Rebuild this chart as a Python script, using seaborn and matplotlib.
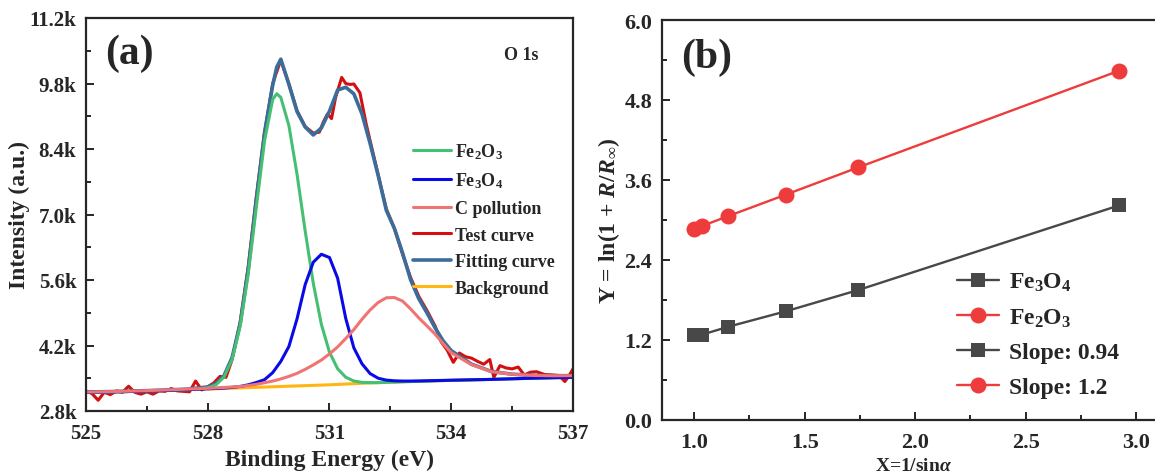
import matplotlib
matplotlib.use("Agg")
import matplotlib.pyplot as plt
import seaborn as sns
from matplotlib.ticker import MultipleLocator, FuncFormatter

# ---- (a) O 1s XPS spectrum -------------------------------------------------
energy = [525.0, 525.5, 526.0, 526.5, 527.0, 527.5, 528.0, 528.2, 528.4, 528.6,
          528.8, 529.0, 529.2, 529.4, 529.6, 529.7, 529.8, 530.0, 530.2, 530.4,
          530.6, 530.8, 531.0, 531.2, 531.4, 531.6, 531.8, 532.0, 532.2, 532.4,
          532.6, 532.8, 533.0, 533.2, 533.4, 533.6, 533.8, 534.0, 534.5, 535.0,
          535.5, 536.0, 536.5, 537.0]
background = [3200, 3207, 3215, 3227, 3240, 3255, 3270, 3276, 3282, 3288,
              3294, 3300, 3306, 3312, 3318, 3321, 3324, 3330, 3336, 3342,
              3348, 3354, 3360, 3368, 3376, 3384, 3392, 3400, 3406, 3412,
              3418, 3424, 3430, 3435, 3440, 3445, 3450, 3455, 3465, 3475,
              3488, 3500, 3510, 3520]
fe2o3_peak = [3200, 3207, 3215, 3227, 3240, 3255, 3294, 3359, 3525, 3900,
              4613, 5741, 7177, 8577, 9459, 9581, 9503, 8898, 7859, 6652,
              5531, 4651, 4055, 3703, 3522, 3441, 3412, 3406, 3406, 3412,
              3418, 3424, 3430, 3435, 3440, 3445, 3450, 3455, 3465, 3475,
              3488, 3500, 3510, 3520]
fe3o4_peak = [3200, 3207, 3215, 3227, 3240, 3257, 3275, 3281, 3290, 3305,
              3325, 3360, 3410, 3470, 3620, 3740, 3860, 4180, 4770, 5500,
              5980, 6150, 6080, 5640, 4780, 4150, 3810, 3600, 3500, 3460,
              3445, 3440, 3440, 3442, 3446, 3450, 3454, 3458, 3467, 3476,
              3489, 3501, 3511, 3520]
c_pollution = [3205, 3213, 3222, 3235, 3250, 3267, 3285, 3293, 3303, 3313,
               3325, 3345, 3370, 3405, 3440, 3462, 3485, 3540, 3605, 3690,
               3785, 3890, 4020, 4170, 4350, 4540, 4760, 4960, 5120, 5220,
               5225, 5150, 4980, 4790, 4620, 4445, 4240, 4045, 3790, 3640,
               3585, 3560, 3553, 3555]
fitting_curve = [3205, 3213, 3222, 3235, 3250, 3267, 3314, 3381, 3554, 3942,
                 4675, 5846, 7340, 8750, 9760, 10150, 10320, 9780, 9200, 8870,
                 8700, 8850, 9210, 9660, 9720, 9580, 9150, 8520, 7830, 7090,
                 6700, 6180, 5600, 5200, 4900, 4580, 4300, 4090, 3800, 3642,
                 3587, 3561, 3554, 3555]

test_energy = [525.0, 525.15, 525.3, 525.45, 525.6, 525.75, 525.9, 526.05, 526.2,
               526.35, 526.5, 526.65, 526.8, 526.95, 527.1, 527.25, 527.4, 527.55,
               527.7, 527.85, 528.0, 528.15, 528.3, 528.45, 528.6, 528.8, 529.0,
               529.2, 529.4, 529.6, 529.8, 530.0, 530.2, 530.4, 530.6, 530.75,
               530.85, 530.95, 531.05, 531.15, 531.3, 531.4, 531.5, 531.6, 531.75,
               531.9, 532.0, 532.2, 532.4, 532.6, 532.8, 533.0, 533.2, 533.4,
               533.6, 533.75, 533.9, 534.05, 534.2, 534.35, 534.5, 534.65, 534.8,
               534.95, 535.05, 535.2, 535.35, 535.5, 535.65, 535.8, 535.95, 536.1,
               536.3, 536.5, 536.65, 536.8, 536.9, 537.0]
test_curve = [3230, 3170, 3030, 3200, 3150, 3230, 3200, 3330, 3200,
              3160, 3210, 3160, 3230, 3220, 3280, 3230, 3220, 3210,
              3440, 3250, 3320, 3400, 3540, 3520, 3900, 4700, 5900,
              7400, 8750, 9800, 10300, 9790, 9220, 8880, 8740, 8760,
              8980, 9150, 9050, 9500, 9930, 9800, 9780, 9790, 9600,
              8950, 8580, 7850, 7120, 6700, 6150, 5650, 5250, 4950,
              4620, 4280, 4100, 3840, 4040, 3960, 3930, 3860, 3800,
              3900, 3520, 3770, 3720, 3700, 3740, 3570, 3630, 3640,
              3580, 3570, 3560, 3430, 3550, 3700]

# ---- (b) angle-resolved plot ----------------------------------------------
inv_sin = [1.0, 1.035, 1.155, 1.414, 1.743, 2.924]
y_fe3o4 = [1.27, 1.28, 1.40, 1.63, 1.95, 3.22]
y_fe2o3 = [2.86, 2.91, 3.06, 3.38, 3.79, 5.24]
slope_labels = ["Slope: 0.94", "Slope: 1.2"]

sns.set_style("ticks")
plt.rcParams["font.family"] = ["Liberation Serif", "DejaVu Serif"]
plt.rcParams["font.weight"] = "bold"
plt.rcParams["axes.labelweight"] = "bold"
plt.rcParams["mathtext.fontset"] = "custom"
plt.rcParams["mathtext.rm"] = "Liberation Serif:bold"
plt.rcParams["mathtext.bf"] = "Liberation Serif:bold"
plt.rcParams["mathtext.it"] = "Liberation Serif:italic:bold"

fig = plt.figure(figsize=(11.55, 4.77), dpi=100)
W, H = 1155, 477
ax1 = fig.add_axes([86 / W, 1 - 412 / H, 487 / W, 393 / H])
ax2 = fig.add_axes([662 / W, 1 - 421 / H, 503 / W, 400 / H])

lw = 2.2
sns.lineplot(x=energy, y=background, ax=ax1, color="#ffb612", lw=lw, label="Background", sort=False)
sns.lineplot(x=test_energy, y=test_curve, ax=ax1, color="#d40f0f", lw=lw, label="Test curve", sort=False)
sns.lineplot(x=energy, y=fitting_curve, ax=ax1, color="#3b6d9a", lw=2.6, label="Fitting curve", sort=False)
sns.lineplot(x=energy, y=fe2o3_peak, ax=ax1, color="#45c073", lw=lw, label=r"Fe$_2$O$_3$", sort=False)
sns.lineplot(x=energy, y=fe3o4_peak, ax=ax1, color="#0a0ae6", lw=lw, label=r"Fe$_3$O$_4$", sort=False)
sns.lineplot(x=energy, y=c_pollution, ax=ax1, color="#f07474", lw=lw, label="C pollution", sort=False)

ax1.set_xlim(525, 537)
ax1.set_ylim(2800, 11200)
ax1.xaxis.set_major_locator(MultipleLocator(3))
ax1.xaxis.set_minor_locator(MultipleLocator(1.5))
ax1.yaxis.set_major_locator(MultipleLocator(1400))
ax1.yaxis.set_minor_locator(MultipleLocator(700))
ax1.yaxis.set_major_formatter(FuncFormatter(lambda v, p: f"{v / 1000:.1f}k"))
ax1.set_xlabel("Binding Energy (eV)", fontsize=17, labelpad=4)
ax1.set_ylabel("Intensity (a.u.)", fontsize=17, labelpad=0)

h, l = ax1.get_legend_handles_labels()
order = [3, 4, 5, 1, 2, 0]
ax1.legend([h[i] for i in order], [l[i] for i in order], frameon=False,
           loc="upper left", bbox_to_anchor=(0.672, 0.686), fontsize=13,
           borderpad=0, borderaxespad=0, handlelength=2.1, handletextpad=0.2,
           labelspacing=0.53)

sns.lineplot(x=inv_sin, y=y_fe3o4, ax=ax2, color="#484848", lw=1.7, marker="s",
             markersize=10, markeredgewidth=0, label=r"Fe$_3$O$_4$")
sns.lineplot(x=inv_sin, y=y_fe2o3, ax=ax2, color="#ee3b3b", lw=1.7, marker="o",
             markersize=11.5, markeredgewidth=0, label=r"Fe$_2$O$_3$")
ax2.set_xlim(0.854, 3.131)
ax2.set_ylim(0, 6)
ax2.xaxis.set_major_locator(MultipleLocator(0.5))
ax2.xaxis.set_minor_locator(MultipleLocator(0.25))
ax2.yaxis.set_major_locator(MultipleLocator(1.2))
ax2.yaxis.set_minor_locator(MultipleLocator(0.6))
ax2.xaxis.set_major_formatter(FuncFormatter(lambda v, p: f"{v:.1f}"))
ax2.yaxis.set_major_formatter(FuncFormatter(lambda v, p: f"{v:.1f}"))
ax2.set_xlabel(r"X=1/sin$\mathit{\alpha}$", fontsize=14, labelpad=3)
ax2.set_ylabel(r"Y = ln(1 + $\mathit{R}$/$\mathit{R}_{\infty}$)", fontsize=17, labelpad=2)

h2, l2 = ax2.get_legend_handles_labels()
ax2.legend(h2 + h2, l2 + slope_labels, frameon=False, loc="upper left",
           bbox_to_anchor=(0.586, 0.372), fontsize=17, borderpad=0, borderaxespad=0,
           handlelength=1.8, handletextpad=0.4, labelspacing=0.55)

for ax in (ax1, ax2):
    for s in ax.spines.values():
        s.set_linewidth(1.6)
    ax.tick_params(which="both", direction="in", width=1.4, top=False, right=False)
    ax.tick_params(which="major", length=6, labelsize=15, pad=7)
    ax.tick_params(which="minor", length=3.5)
    ax.tick_params(axis="x", which="major", pad=9)
ax2.tick_params(which="major", labelsize=16)

fig.text(105 / W, 1 - 54 / H, "(a)", fontsize=30, fontweight="bold", va="center", ha="left")
fig.text(681 / W, 1 - 58 / H, "(b)", fontsize=30, fontweight="bold", va="center", ha="left")
fig.text(521 / W, 1 - 55 / H, "O 1s", fontsize=13, fontweight="bold", va="center", ha="center")

fig.savefig("out.png", dpi=100)
